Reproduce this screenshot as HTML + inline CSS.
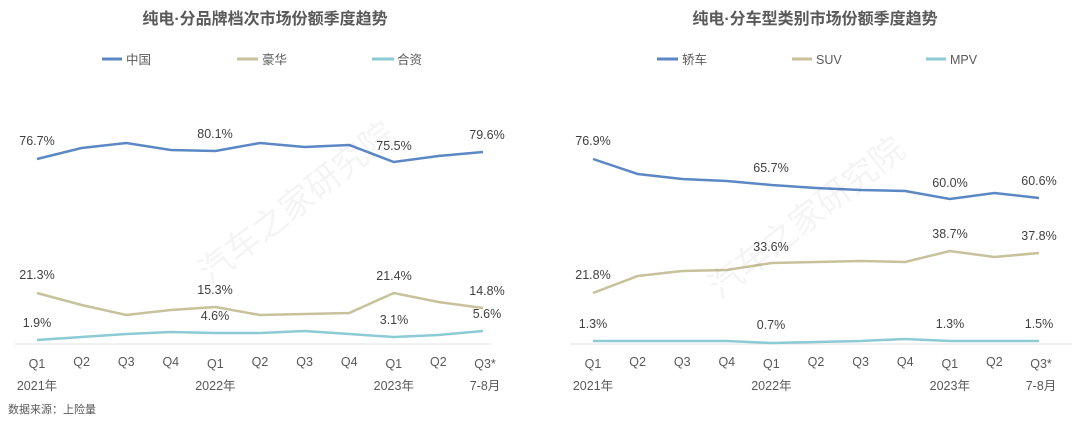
<!DOCTYPE html>
<html><head><meta charset="utf-8"><style>
html,body{margin:0;padding:0;background:#fff;}
svg{display:block;font-family:"Liberation Sans","Noto Sans CJK SC",sans-serif;}
.t{font-size:16px;font-weight:bold;fill:#595959;}
.l{font-size:12.5px;fill:#595959;}
.d{font-size:12.5px;fill:#404040;}
.a{font-size:12.5px;fill:#595959;}
</style></head><body>
<svg width="1080" height="422" viewBox="0 0 1080 422">
<rect width="1080" height="422" fill="#fff"/>
<!-- LEFT -->
<text class="t" x="265" y="24" text-anchor="middle">纯电·分品牌档次市场份额季度趋势</text>
<line x1="102" y1="59" x2="122" y2="59" stroke="#5b87c5" stroke-width="3"/><text class="l" x="126" y="64">中国</text>
<line x1="237" y1="59" x2="258" y2="59" stroke="#c7c29b" stroke-width="3"/><text class="l" x="262" y="64">豪华</text>
<line x1="372" y1="59" x2="394" y2="59" stroke="#8ccbd6" stroke-width="3"/><text class="l" x="397" y="64">合资</text>
<line x1="15" y1="344" x2="492" y2="344" stroke="#e3e3e3" stroke-width="1"/>
<polyline fill="none" stroke="#5b87c5" stroke-width="2.5" points="37,159 81.6,148 126.2,143 170.8,150 215.4,151 260,143 304.6,147 349.2,145 393.8,162 438.4,156 483,152"/>
<polyline fill="none" stroke="#c7c29b" stroke-width="2.5" points="37,293 81.6,305 126.2,315 170.8,310 215.4,307 260,315 304.6,314 349.2,313 393.8,293 438.4,302 483,308"/>
<polyline fill="none" stroke="#8ccbd6" stroke-width="2.5" points="37,340 81.6,337 126.2,334 170.8,332 215.4,333 260,333 304.6,331 349.2,334 393.8,337 438.4,335 483,331"/>
<g class="d" text-anchor="middle">
<text x="37" y="145">76.7%</text><text x="215" y="138">80.1%</text><text x="394" y="150">75.5%</text><text x="487" y="139">79.6%</text>
<text x="37" y="279">21.3%</text><text x="215" y="294">15.3%</text><text x="394" y="280">21.4%</text><text x="487" y="295">14.8%</text>
<text x="37" y="327">1.9%</text><text x="215" y="320">4.6%</text><text x="394" y="324">3.1%</text><text x="487" y="318">5.6%</text>
</g>
<g class="a" text-anchor="middle">
<text x="37" y="368">Q1</text><text x="81.6" y="366">Q2</text><text x="126.2" y="366">Q3</text><text x="170.8" y="366">Q4</text><text x="215.4" y="368">Q1</text><text x="260" y="366">Q2</text><text x="304.6" y="366">Q3</text><text x="349.2" y="366">Q4</text><text x="393.8" y="368">Q1</text><text x="438.4" y="366">Q2</text><text x="485" y="368">Q3*</text>
<text x="37" y="390">2021年</text><text x="215.4" y="390">2022年</text><text x="393.8" y="390">2023年</text><text x="485" y="390">7-8月</text>
</g>
<text x="8" y="413" style="font-size:11px;fill:#595959">数据来源：上险量</text>
<!-- RIGHT -->
<text class="t" x="815" y="24" text-anchor="middle">纯电·分车型类别市场份额季度趋势</text>
<line x1="657" y1="59" x2="678" y2="59" stroke="#5b87c5" stroke-width="3"/><text class="l" x="682" y="64">轿车</text>
<line x1="792" y1="59" x2="812" y2="59" stroke="#c7c29b" stroke-width="3"/><text class="l" x="816" y="64">SUV</text>
<line x1="926" y1="59" x2="946" y2="59" stroke="#8ccbd6" stroke-width="3"/><text class="l" x="950" y="64">MPV</text>
<line x1="570" y1="344" x2="1072" y2="344" stroke="#e3e3e3" stroke-width="1"/>
<polyline fill="none" stroke="#5b87c5" stroke-width="2.5" points="593,159 637.6,174 682.2,179 726.8,181 771.4,185 816,188 860.6,190 905.2,191 949.8,199 994.4,193 1039,198"/>
<polyline fill="none" stroke="#c7c29b" stroke-width="2.5" points="593,293 637.6,276 682.2,271 726.8,270 771.4,263 816,262 860.6,261 905.2,262 949.8,251 994.4,257 1039,253"/>
<polyline fill="none" stroke="#8ccbd6" stroke-width="2.5" points="593,341 637.6,341 682.2,341 726.8,341 771.4,343 816,342 860.6,341 905.2,339 949.8,341 994.4,341 1039,341"/>
<g class="d" text-anchor="middle">
<text x="593" y="145">76.9%</text><text x="771" y="172">65.7%</text><text x="950" y="187">60.0%</text><text x="1039" y="185">60.6%</text>
<text x="593" y="279">21.8%</text><text x="771" y="251">33.6%</text><text x="950" y="238">38.7%</text><text x="1039" y="240">37.8%</text>
<text x="593" y="328">1.3%</text><text x="771" y="329">0.7%</text><text x="950" y="328">1.3%</text><text x="1039" y="328">1.5%</text>
</g>
<g class="a" text-anchor="middle">
<text x="593" y="368">Q1</text><text x="637.6" y="366">Q2</text><text x="682.2" y="366">Q3</text><text x="726.8" y="366">Q4</text><text x="771.4" y="368">Q1</text><text x="816" y="366">Q2</text><text x="860.6" y="366">Q3</text><text x="905.2" y="366">Q4</text><text x="949.8" y="368">Q1</text><text x="994.4" y="366">Q2</text><text x="1041" y="368">Q3*</text>
<text x="593" y="390">2021年</text><text x="771.4" y="390">2022年</text><text x="949.8" y="390">2023年</text><text x="1041" y="390">7-8月</text>
</g>
<!-- watermarks -->
<text x="210" y="285" transform="rotate(-38 210 285)" style="font-size:34px;fill:#000;opacity:0.04">汽车之家研究院</text>
<text x="720" y="300" transform="rotate(-38 720 300)" style="font-size:34px;fill:#000;opacity:0.04">汽车之家研究院</text>
</svg>
</body></html>
